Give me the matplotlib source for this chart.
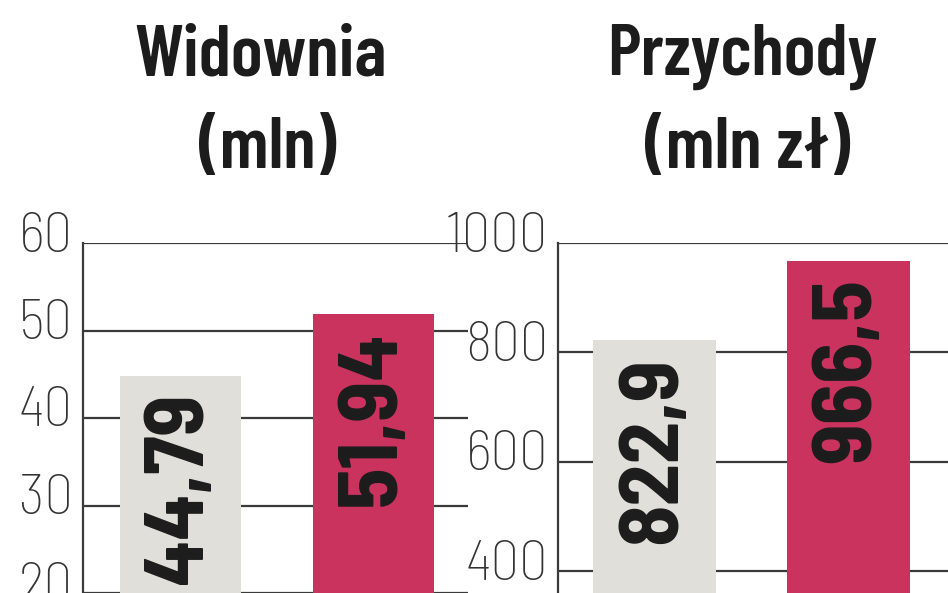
import matplotlib
matplotlib.use("Agg")
import matplotlib.pyplot as plt
import matplotlib.transforms as mtransforms

# dane
widownia = [44.79, 51.94]
przychody = [822.9, 966.5]
widownia_labels = ["44,79", "51,94"]
przychody_labels = ["822,9", "966,5"]
widownia_ticks = [20, 30, 40, 50, 60]
przychody_ticks = [400, 600, 800, 1000]
widownia_title = ["Widownia", "(mln)"]
przychody_title = ["Przychody", "(mln zł)"]

TITLE_FONT = ["Barlow Condensed", "DejaVu Sans"]
FONT = ["Barlow Semi Condensed", "DejaVu Sans"]
bar_colors = ["#e0dfd9", "#c9335e"]
line_c = "#3a3a3a"
text_c = "#1c1c1c"

W, H = 948, 593
fig = plt.figure(figsize=(W / 100, H / 100), dpi=100)


def panel(rect, vals, labels, ticks, ylim, xlim, title, title_x):
    ax = fig.add_axes(rect)
    ax.set_xlim(*xlim)
    ax.set_ylim(*ylim)
    ax.set_axisbelow(True)
    ax.set_yticks(ticks)
    ax.yaxis.grid(True, color=line_c, linewidth=1.6)
    ax.tick_params(axis="y", length=0, labelleft=False)
    ax.set_xticks([])
    ax.bar(range(len(vals)), vals, width=0.63, color=bar_colors, zorder=2)
    off = mtransforms.offset_copy(ax.transData, fig=fig, y=-0.17, units="inches")
    for i, (v, lab) in enumerate(zip(vals, labels)):
        ax.text(i, v, lab, rotation=90, ha="center", va="top", fontsize=61,
                family=FONT, fontweight="bold", color=text_c, transform=off, zorder=3)
    # opisy osi nad liniami siatki
    tr = mtransforms.blended_transform_factory(ax.transAxes, ax.transData)
    tr = tr + mtransforms.ScaledTranslation(-0.10, -0.085, fig.dpi_scale_trans)
    for t in ticks:
        ax.text(0, t, str(t), transform=tr, ha="right", va="baseline",
                family=FONT, fontsize=41, fontweight="light", color="#333333")
    for s in ["top", "right", "bottom"]:
        ax.spines[s].set_visible(False)
    ax.spines["left"].set_color(line_c)
    ax.spines["left"].set_linewidth(1.6)
    # tytuł w dwóch liniach
    for (line, x), base in zip(zip(title, title_x), [75, 168]):
        fig.text(x / W, 1 - base / H, line, ha="center", va="baseline",
                 fontsize=53, family=TITLE_FONT, fontweight="semibold", color=text_c)
    return ax


panel([83 / W, 0, 385 / W, 350 / H], widownia, widownia_labels, widownia_ticks,
      (21.68, 60), (-0.506, 1.49), widownia_title, [261, 268])
panel([558 / W, 0, 390 / W, 350 / H], przychody, przychody_labels, przychody_ticks,
      (359.8, 1000), (-0.497, 1.513), przychody_title, [742, 748])

fig.savefig("out.png", dpi=100)
